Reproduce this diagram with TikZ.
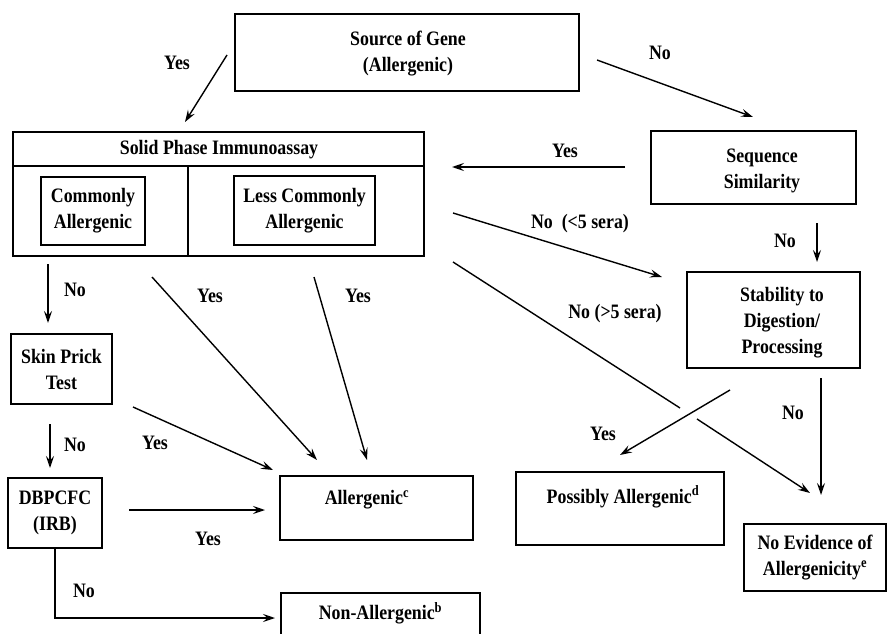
\documentclass[tikz,border=0pt]{standalone}
\usepackage{fontspec}
\setmainfont[FakeStretch=0.87]{Liberation Serif}
\usetikzlibrary{arrows.meta}
\begin{document}
\begin{tikzpicture}[x=1pt,y=-1pt,
  every node/.style={font=\fontsize{20.5}{26}\selectfont\bfseries, inner sep=0pt, align=center},
  box/.style={draw, line width=1.7pt, rectangle},
  ibox/.style={draw, line width=1.3pt, rectangle},
  lbl/.style={font=\fontsize{20.5}{26}\selectfont\bfseries},
  arr/.style={line width=1.4pt, -{Stealth[length=12pt,width=8pt,inset=4.5pt]}},
  ln/.style={line width=1.4pt}]
\useasboundingbox (0,0) rectangle (887,634);
% boxes
\node[box, minimum width=344pt, minimum height=77pt] (src) at (407,52.5) {};
\node at (408,54) {Source of Gene\\(Allergenic)};
\node[box, minimum width=411pt, minimum height=124pt] (spi) at (218.5,194) {};
\coordinate (hdl) at (13,166);
\coordinate (hdr) at (424,166);
\draw[line width=1.7pt] (hdl) -- (hdr);
\coordinate (vt) at (188,166);
\draw[line width=1.7pt] (vt) -- (vt |- spi.south);
\node at (219,150) {Solid Phase Immunoassay};
\node[ibox, minimum width=104pt, minimum height=68pt] (common) at (93,211) {Commonly\\Allergenic};
\node[ibox, minimum width=141pt, minimum height=69pt] (less) at (304.5,210.5) {Less Commonly\\Allergenic};
\node[box, minimum width=205pt, minimum height=73pt] (seq) at (753.5,167.5) {};
\node at (762,171) {Sequence\\Similarity};
\node[box, minimum width=173pt, minimum height=96pt] (stab) at (773.5,320) {};
\node at (782,323) {Stability to\\Digestion/\\Processing};
\node[box, minimum width=101pt, minimum height=70pt] (skin) at (61.5,369) {Skin Prick\\Test};
\node[box, minimum width=94pt, minimum height=70pt] (dbp) at (55,513) {DBPCFC\\(IRB)};
\node[box, minimum width=193pt, minimum height=64pt] (aller) at (376.5,508) {};
\node at (367,500) {Allergenic\textsuperscript{c}};
\node[box, minimum width=208pt, minimum height=73pt] (poss) at (620,508.5) {};
\node at (623,497) {Possibly Allergenic\textsuperscript{d}};
\node[box, minimum width=142pt, minimum height=67pt] (noev) at (815,557.5) {No Evidence of\\Allergenicity\textsuperscript{e}};
\node[minimum width=199pt, minimum height=41pt] (nonal) at (380.5,613.5) {Non-Allergenic\textsuperscript{b}};
\draw[line width=1.7pt] (nonal.south west) -- (nonal.north west) -- (nonal.north east) -- (nonal.south east);
% connector end points
\coordinate (a1s) at (227,55);  \coordinate (a1e) at (185,122);
\coordinate (a2s) at (597,60);  \coordinate (a2e) at (753,117);
\coordinate (a3s) at (625,167); \coordinate (a3e) at (452,167);
\coordinate (a4s) at (453,213); \coordinate (a4e) at (662,277);
\coordinate (a5s) at (817,223); \coordinate (a5e) at (817,262);
\coordinate (a6s) at (453,262); \coordinate (a6m) at (680,408);
\coordinate (a6n) at (697,419); \coordinate (a6e) at (810,493);
\coordinate (a7s) at (730,390); \coordinate (a7e) at (620,455);
\coordinate (a8s) at (821,378); \coordinate (a8e) at (821,495);
\coordinate (a9s) at (48,264);  \coordinate (a9e) at (48,323);
\coordinate (a10s) at (152,277); \coordinate (a10e) at (317,460);
\coordinate (a11s) at (314,277); \coordinate (a11e) at (367,460);
\coordinate (a12s) at (133,407); \coordinate (a12e) at (273,470);
\coordinate (a13s) at (50,424);  \coordinate (a13e) at (50,468);
\coordinate (a14s) at (129,510); \coordinate (a14e) at (265,510);
\coordinate (a15c) at (55,618);  \coordinate (a15e) at (275,618);
% connectors
\draw[arr] (a1s) -- (a1e);
\draw[arr] (a2s) -- (a2e);
\draw[arr] (a3s) -- (a3e);
\draw[arr] (a4s) -- (a4e);
\draw[arr] (a5s) -- (a5e);
\draw[ln] (a6s) -- (a6m);
\draw[arr] (a6n) -- (a6e);
\draw[arr] (a7s) -- (a7e);
\draw[arr] (a8s) -- (a8e);
\draw[arr] (a9s) -- (a9e);
\draw[arr] (a10s) -- (a10e);
\draw[arr] (a11s) -- (a11e);
\draw[arr] (a12s) -- (a12e);
\draw[arr] (a13s) -- (a13e);
\draw[arr] (a14s) -- (a14e);
\draw[arr] (dbp.south) -- (a15c) -- (a15e);
% labels
\node[lbl] (l1) at (177,63) {Yes};
\node[lbl] (l2) at (660,53) {No};
\node[lbl] (l3) at (565,151) {Yes};
\node[lbl] (l4) at (580,224) {No\ \ (<5 sera)};
\node[lbl] (l5) at (785,241) {No};
\node[lbl] (l6) at (615,314) {No (>5 sera)};
\node[lbl] (l7) at (603,434) {Yes};
\node[lbl] (l8) at (793,413) {No};
\node[lbl] (l9) at (75,290) {No};
\node[lbl] (l10) at (210,296) {Yes};
\node[lbl] (l11) at (358,296) {Yes};
\node[lbl] (l12) at (155,443) {Yes};
\node[lbl] (l13) at (75,445) {No};
\node[lbl] (l14) at (208,539) {Yes};
\node[lbl] (l15) at (84,591) {No};
\end{tikzpicture}
\end{document}
